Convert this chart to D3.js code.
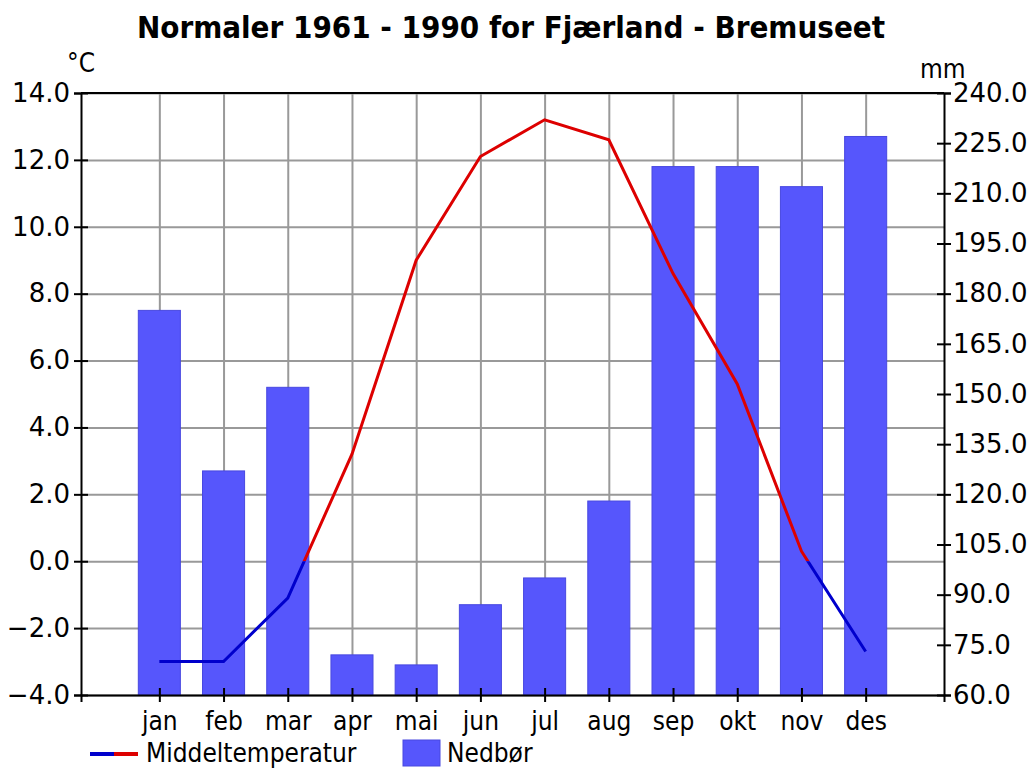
<!DOCTYPE html>
<html>
<head>
<meta charset="utf-8">
<script src="https://cdn.jsdelivr.net/npm/d3@7"></script>
<style>
    body { margin: 0; background: #fff; }
    text { fill: #000; }
</style>
</head>
<body>
<div id="wrapper"></div>
<script>
// 1. Data
const months = ["jan", "feb", "mar", "apr", "mai", "jun", "jul", "aug", "sep", "okt", "nov", "des"]
const temperature = [-3.0, -3.0, -1.1, 3.2, 9.0, 12.1, 13.2, 12.6, 8.6, 5.3, 0.3, -2.7]
const precipitation = [175, 127, 152, 72, 69, 87, 95, 118, 218, 218, 212, 227]
const tempTicks = [-4, -2, 0, 2, 4, 6, 8, 10, 12, 14]
const precipTicks = [60, 75, 90, 105, 120, 135, 150, 165, 180, 195, 210, 225, 240]

const title = "Normaler 1961 - 1990 for Fjærland - Bremuseet"
const tempLabel = "Middeltemperatur"
const precipLabel = "Nedbør"

// 2. Dimensions
let dimensions = {
    width: 1035,
    height: 769,
    margin: { top: 93, right: 91, bottom: 74, left: 81 },
}
dimensions.boundedWidth = dimensions.width - dimensions.margin.left - dimensions.margin.right
dimensions.boundedHeight = dimensions.height - dimensions.margin.top - dimensions.margin.bottom

const tickFont = "'DejaVu Sans', Verdana, sans-serif"
const labelFont = "'DejaVu Sans Condensed', 'DejaVu Sans', sans-serif"

// 3. Canvas
const wrapper = d3.select("#wrapper")
    .append("svg")
    .attr("width", dimensions.width)
    .attr("height", dimensions.height)

const bounds = wrapper.append("g")
    .attr("transform", `translate(${dimensions.margin.left},${dimensions.margin.top})`)

// 4. Scales
const xScale = d3.scalePoint()
    .domain(months)
    .range([0, dimensions.boundedWidth])
    .padding(1.22)

const yTemp = d3.scaleLinear()
    .domain([-4, 14])
    .range([dimensions.boundedHeight, 0])

const yPrecip = d3.scaleLinear()
    .domain([60, 240])
    .range([dimensions.boundedHeight, 0])

// 5. Grid
bounds.append("g")
    .attr("class", "grid-y")
    .call(d3.axisLeft(yTemp).tickValues(tempTicks).tickSize(-dimensions.boundedWidth).tickFormat(""))
    .call(g => g.select(".domain").remove())
    .call(g => g.selectAll("line").attr("stroke", "#999").attr("stroke-width", 2))

bounds.append("g")
    .attr("class", "grid-x")
    .call(d3.axisBottom(xScale).tickSize(dimensions.boundedHeight).tickFormat(""))
    .call(g => g.select(".domain").remove())
    .call(g => g.selectAll("line").attr("stroke", "#999").attr("stroke-width", 2))

// 6. Bars
const barWidth = xScale.step() * 0.655
bounds.selectAll("rect.bar")
    .data(precipitation)
    .enter()
    .append("rect")
    .attr("class", "bar")
    .attr("x", (d, i) => xScale(months[i]) - barWidth / 2)
    .attr("y", d => yPrecip(d))
    .attr("width", barWidth)
    .attr("height", d => dimensions.boundedHeight - yPrecip(d))
    .attr("fill", "#5656fc")
    .attr("stroke", "#4848e0")
    .attr("stroke-width", 1)

// 7. Temperature line, red above zero, blue below
const lineGenerator = d3.line()
    .x((d, i) => xScale(months[i]))
    .y(d => yTemp(d))

const defs = wrapper.append("defs")
defs.append("clipPath").attr("id", "above")
    .append("rect")
    .attr("x", -10).attr("y", -10)
    .attr("width", dimensions.boundedWidth + 20)
    .attr("height", yTemp(0) + 10)
defs.append("clipPath").attr("id", "below")
    .append("rect")
    .attr("x", -10).attr("y", yTemp(0))
    .attr("width", dimensions.boundedWidth + 20)
    .attr("height", dimensions.boundedHeight - yTemp(0) + 10)

bounds.append("path")
    .datum(temperature)
    .attr("d", lineGenerator)
    .attr("fill", "none")
    .attr("stroke", "#dd0000")
    .attr("stroke-width", 3)
    .attr("clip-path", "url(#above)")

bounds.append("path")
    .datum(temperature)
    .attr("d", lineGenerator)
    .attr("fill", "none")
    .attr("stroke", "#0000cc")
    .attr("stroke-width", 3)
    .attr("clip-path", "url(#below)")

// 8. Axes
bounds.append("line")
    .attr("x1", 0).attr("x2", dimensions.boundedWidth)
    .attr("y1", 0).attr("y2", 0)
    .attr("stroke", "#000").attr("stroke-width", 2)

const yAxis = bounds.append("g")
    .call(d3.axisLeft(yTemp).tickValues(tempTicks).tickSize(7).tickPadding(4).tickFormat(d3.format(".1f")))
yAxis.selectAll(".tick line").attr("x1", 7)

const yAxisRight = bounds.append("g")
    .attr("transform", `translate(${dimensions.boundedWidth},0)`)
    .call(d3.axisRight(yPrecip).tickValues(precipTicks).tickSize(7).tickPadding(2).tickFormat(d3.format(".1f")))
yAxisRight.selectAll(".tick line").attr("x1", -7)

const xAxis = bounds.append("g")
    .attr("transform", `translate(0,${dimensions.boundedHeight})`)
    .call(d3.axisBottom(xScale).tickSize(7).tickPadding(10))
xAxis.selectAll(".tick line").attr("y1", -7)

for (const axis of [yAxis, yAxisRight, xAxis]) {
    axis.select(".domain").attr("stroke", "#000").attr("stroke-width", 2)
    axis.selectAll(".tick line").attr("stroke", "#000").attr("stroke-width", 2)
    axis.selectAll("text")
        .attr("fill", "#111")
        .style("font-family", tickFont)
        .style("font-size", "26px")
}
xAxis.selectAll("text")
    .style("font-family", labelFont)
    .style("font-size", "26px")

// 9. Titles and units
wrapper.append("text")
    .attr("x", 511)
    .attr("y", 38)
    .attr("text-anchor", "middle")
    .style("font-family", labelFont)
    .style("font-weight", "bold")
    .style("font-size", "31px")
    .text(title)

wrapper.append("text")
    .attr("x", 67)
    .attr("y", 72)
    .style("font-family", labelFont)
    .style("font-size", "26px")
    .text("°C")

wrapper.append("text")
    .attr("x", 920)
    .attr("y", 78)
    .style("font-family", labelFont)
    .style("font-size", "26px")
    .text("mm")

// 10. Legend
const legend = wrapper.append("g")
legend.append("line")
    .attr("x1", 90).attr("x2", 114).attr("y1", 754).attr("y2", 754)
    .attr("stroke", "#0000cc").attr("stroke-width", 4)
legend.append("line")
    .attr("x1", 114).attr("x2", 138).attr("y1", 754).attr("y2", 754)
    .attr("stroke", "#dd0000").attr("stroke-width", 4)
legend.append("text")
    .attr("x", 146).attr("y", 762)
    .style("font-family", labelFont)
    .style("font-size", "26px")
    .text(tempLabel)
legend.append("rect")
    .attr("x", 403).attr("y", 740)
    .attr("width", 37).attr("height", 26)
    .attr("fill", "#5656fc")
    .attr("stroke", "#4848e0")
legend.append("text")
    .attr("x", 447).attr("y", 762)
    .style("font-family", labelFont)
    .style("font-size", "26px")
    .text(precipLabel)
</script>
</body>
</html>
